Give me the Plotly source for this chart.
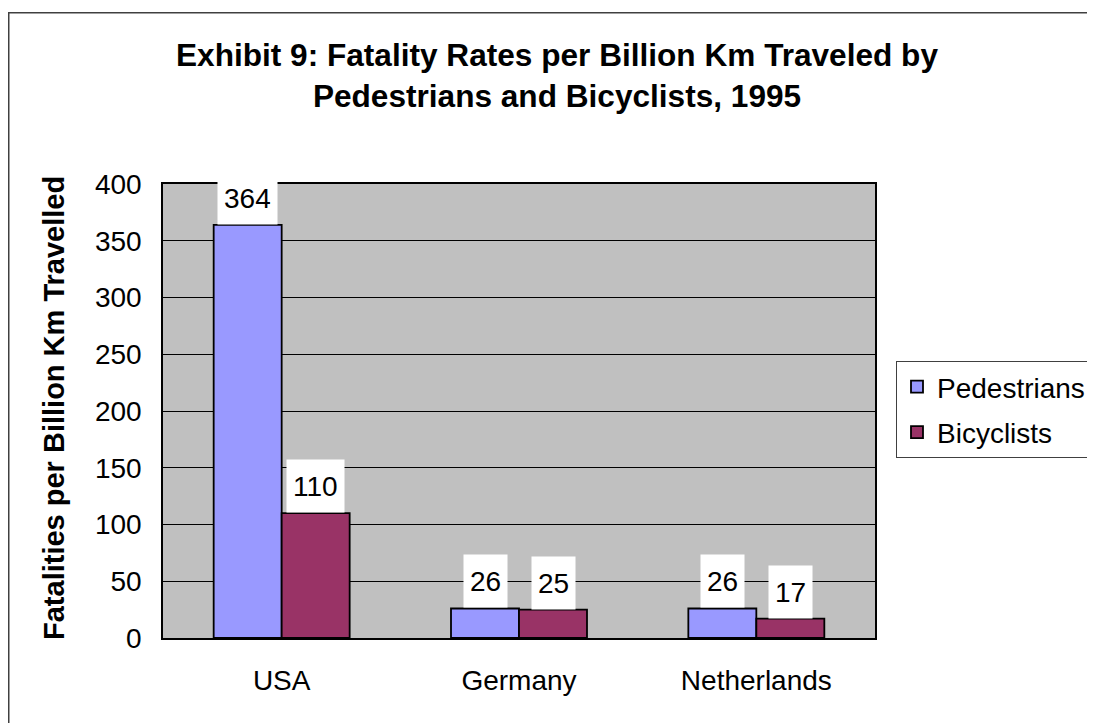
import plotly.graph_objects as go

categories = ["USA", "Germany", "Netherlands"]
pedestrians = [364, 26, 26]
bicyclists = [110, 25, 17]
series_names = ["Pedestrians", "Bicyclists"]
y_ticks = [0, 50, 100, 150, 200, 250, 300, 350, 400]

FONT = "Liberation Sans, Arial, sans-serif"
W, H = 1095, 723
OFF = 8  # page body margin offset
ML, MT = 163 - OFF, 184 - OFF
PR, PB = 875 - OFF, 638 - OFF
MR, MB = W - PR, H - PB
PW = PR - ML
PH = PB - MT


def px_x(px):
    return (px - OFF - ML) / PW


def px_y(py):
    return (PB - (py - OFF)) / PH


BAR_W = 0.2865

fig = go.Figure()
colors = ["#9999FF", "#993366"]
for i, (name, vals) in enumerate(zip(series_names, [pedestrians, bicyclists])):
    fig.add_trace(go.Bar(
        name=name, x=categories, y=vals,
        marker=dict(color=colors[i], line=dict(color="black", width=1.8)),
        width=BAR_W, offset=-BAR_W if i == 0 else 0,
        legendgroup=name,
    ))

# data labels with white boxes
for i, vals in enumerate([pedestrians, bicyclists]):
    for j, v in enumerate(vals):
        xc = j + (-BAR_W / 2 if i == 0 else BAR_W / 2)
        fig.add_annotation(
            x=xc, y=v, xref="x", yref="y", text=str(v), showarrow=False,
            xanchor="center", yanchor="bottom", bgcolor="white",
            borderpad=6, height=40, valign="middle",
            font=dict(family=FONT, size=28, color="black"),
        )

# y axis title
fig.add_annotation(
    x=px_x(54), y=px_y(408), xref="paper", yref="paper",
    text="<b>Fatalities per Billion Km Travelled</b>", textangle=-90,
    showarrow=False, xanchor="center", yanchor="middle",
    font=dict(family=FONT, size=29, color="black"),
)

# outer chart border
fig.add_shape(
    type="rect", xref="paper", yref="paper",
    x0=px_x(8.75), x1=px_x(1120),
    y0=px_y(760), y1=px_y(12.75),
    line=dict(color="#404040", width=1.5), fillcolor="rgba(0,0,0,0)", layer="below",
)

fig.update_layout(
    width=W, height=H,
    margin=dict(l=ML, r=MR, t=MT, b=MB, autoexpand=False),
    paper_bgcolor="white", plot_bgcolor="#C0C0C0",
    barmode="group",
    title=dict(
        text="<b>Exhibit 9: Fatality Rates per Billion Km Traveled by<br>Pedestrians and Bicyclists, 1995</b>",
        x=(557 - OFF) / W, xanchor="center", y=1 - 58 / H, yanchor="top",
        font=dict(family=FONT, size=31.6, color="black"),
    ),
    font=dict(family=FONT, size=28, color="black"),
    showlegend=True,
    legend=dict(
        x=px_x(896), y=px_y(361), xanchor="left", yanchor="top",
        bgcolor="white", bordercolor="#404040", borderwidth=1,
        font=dict(family=FONT, size=28, color="black"),
        traceorder="grouped", tracegroupgap=6,
    ),
    xaxis=dict(
        type="category", showgrid=False, showline=True, mirror=True,
        linecolor="black", linewidth=1.5, ticks="", ticklabelstandoff=17,
        tickfont=dict(family=FONT, size=28, color="black"),
        range=[-0.5, 2.5],
    ),
    yaxis=dict(
        range=[0, 400], tickvals=y_ticks, ticktext=[str(t) for t in y_ticks],
        showgrid=True, gridcolor="black", gridwidth=1,
        showline=True, mirror=True, linecolor="black", linewidth=1.5,
        ticks="", ticklabelstandoff=14, zeroline=False,
        tickfont=dict(family=FONT, size=28, color="black"),
    ),
)

fig.write_html("out.html")
